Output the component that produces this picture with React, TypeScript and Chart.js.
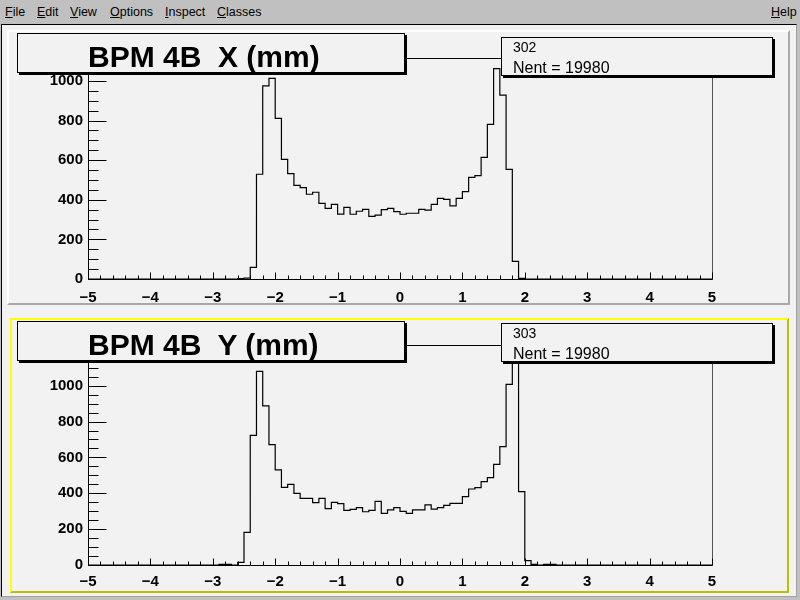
import React, { useEffect, useRef } from "react";
import { Chart, registerables } from "chart.js";

Chart.register(...registerables);

// ---- data ----
const binLow = -5;
const binHigh = 5;
const binCount = 100;

// BPM 4B X histogram (id 302), counts per 0.1 mm bin starting at xStart
const xStart = -2.6;
const xCounts = [
  2, 4, 59, 529, 975, 1013, 811, 604, 532, 473,
  461, 428, 438, 382, 357, 377, 328, 362, 327, 342,
  352, 316, 323, 350, 357, 340, 327, 332, 332, 352,
  348, 377, 407, 402, 369, 407, 441, 513, 522, 614,
  781, 1062, 929, 554, 89, 3,
];

// BPM 4B Y histogram (id 303), counts per 0.1 mm bin starting at yStart
const yStart = -2.9;
const yCounts = [
  3, 3, 0, 15, 182, 723, 1080, 888, 671, 530,
  433, 450, 400, 372, 372, 348, 372, 314, 349, 342,
  305, 310, 320, 297, 305, 355, 288, 307, 320, 299,
  288, 307, 307, 335, 312, 320, 333, 344, 344, 381,
  424, 431, 465, 487, 561, 660, 1007, 1168, 409, 24,
  4, 0, 4, 4,
];

const xTickValues = [-5, -4, -3, -2, -1, 0, 1, 2, 3, 4, 5];
const yTickValues = [0, 200, 400, 600, 800, 1000];
const xMinorStep = 0.2;
const yMinorStep = 50;
const topYMax = 1116;
const bottomYMax = 1227;

const menuItems = ["File", "Edit", "View", "Options", "Inspect", "Classes"];

const FONT = "'Liberation Sans', Arial, Helvetica, sans-serif";
const PAD_BG = "#f2f2f2";

function buildPoints(start: number, counts: number[]) {
  const w = (binHigh - binLow) / binCount;
  const offset = Math.round((start - binLow) / w);
  const full = new Array(binCount).fill(0);
  counts.forEach((c, i) => {
    full[offset + i] = c;
  });
  const pts = full.map((c, i) => ({ x: binLow + i * w, y: c }));
  pts.push({ x: binHigh, y: 0 });
  return pts;
}

const rootAxesPlugin = {
  id: "rootAxes",
  afterDatasetsDraw(chart: any) {
    const { ctx, chartArea: a, scales } = chart;
    const xs = scales.x;
    const ys = scales.y;
    const L = Math.round(a.left) + 0.5;
    const R = Math.round(a.right) + 0.5;
    const T = Math.round(a.top) + 0.5;
    const B = Math.round(a.bottom) + 0.5;
    ctx.save();
    ctx.lineWidth = 1;
    // frame
    ctx.strokeStyle = "#000";
    ctx.beginPath();
    ctx.moveTo(R, T);
    ctx.lineTo(L, T);
    ctx.lineTo(L, B);
    ctx.lineTo(R, B);
    ctx.stroke();
    ctx.strokeStyle = "#555";
    ctx.beginPath();
    ctx.moveTo(R, T);
    ctx.lineTo(R, B);
    ctx.stroke();
    // x ticks (inward)
    ctx.strokeStyle = "#000";
    ctx.beginPath();
    const nX = Math.round((xs.max - xs.min) / xMinorStep);
    for (let i = 0; i <= nX; i++) {
      const v = xs.min + i * xMinorStep;
      const px = Math.round(xs.getPixelForValue(v)) + 0.5;
      const major = Math.abs(v - Math.round(v)) < 1e-6;
      const len = major ? 7 : 4;
      ctx.moveTo(px, B);
      ctx.lineTo(px, B - len);
    }
    // y ticks (inward)
    for (let v = 0; v <= ys.max; v += yMinorStep) {
      const py = Math.round(ys.getPixelForValue(v)) + 0.5;
      const major = v % 200 === 0;
      const len = major ? 18 : 10;
      ctx.moveTo(L, py);
      ctx.lineTo(L + len, py);
    }
    ctx.stroke();
    ctx.restore();
  },
};

function makeConfig(points: any[], yMax: number, topPad: number, xAxisH: number, xLabelPad: number) {
  return {
    type: "line" as const,
    data: {
      datasets: [
        {
          data: points,
          stepped: true,
          borderColor: "#000",
          borderWidth: 1.2,
          pointRadius: 0,
          fill: false,
          tension: 0,
        },
      ],
    },
    options: {
      animation: false,
      responsive: false,
      maintainAspectRatio: false,
      parsing: false,
      layout: { padding: { top: topPad, right: 88, left: 0, bottom: 0 } },
      plugins: {
        legend: { display: false },
        tooltip: { enabled: false },
        title: { display: false },
      },
      scales: {
        x: {
          type: "linear",
          min: binLow,
          max: binHigh,
          grid: { display: false, drawTicks: false },
          border: { display: false },
          ticks: {
            color: "#000",
            font: { family: FONT, size: 15, weight: "bold" },
            padding: xLabelPad,
            maxRotation: 0,
            autoSkip: false,
            callback: (v: any) => String(v).replace("-", "\u2212"),
          },
          afterBuildTicks: (s: any) => {
            s.ticks = xTickValues.map((v) => ({ value: v }));
          },
          afterFit: (s: any) => {
            s.height = xAxisH;
          },
        },
        y: {
          type: "linear",
          min: 0,
          max: yMax,
          grid: { display: false, drawTicks: false },
          border: { display: false },
          ticks: {
            color: "#000",
            font: { family: FONT, size: 15, weight: "bold" },
            padding: 5,
            autoSkip: false,
            callback: (v: any) => String(v),
          },
          afterBuildTicks: (s: any) => {
            s.ticks = yTickValues.map((v) => ({ value: v }));
          },
          afterFit: (s: any) => {
            s.width = 88;
          },
        },
      },
    },
    plugins: [rootAxesPlugin],
  };
}

function TitleBox({ top, text }: { top: number; text: string }) {
  return (
    <div
      style={{
        position: "absolute",
        left: 17,
        top,
        width: 388,
        height: 40,
        boxSizing: "border-box",
        border: "1px solid #000",
        boxShadow: "2px 2px 0 #000",
        background: PAD_BG,
      }}
    >
      <div
        style={{
          position: "absolute",
          left: 70,
          top: 8,
          height: 30,
          lineHeight: "30px",
          fontFamily: FONT,
          fontWeight: "bold",
          fontSize: 30,
          whiteSpace: "pre",
          color: "#000",
        }}
      >
        {text}
      </div>
    </div>
  );
}

function StatsBox({ top, id, nent }: { top: number; id: string; nent: string }) {
  return (
    <div
      style={{
        position: "absolute",
        left: 501,
        top,
        width: 272,
        height: 39,
        boxSizing: "border-box",
        border: "1px solid #000",
        boxShadow: "2px 2px 0 #000",
        background: PAD_BG,
        fontFamily: FONT,
        color: "#000",
      }}
    >
      <div style={{ position: "absolute", left: 11, top: 2, height: 14, lineHeight: "14px", fontSize: 14 }}>{id}</div>
      <div style={{ position: "absolute", left: 11, top: 22, height: 16, lineHeight: "16px", fontSize: 16 }}>{nent}</div>
    </div>
  );
}

export default function App() {
  const topRef = useRef<HTMLCanvasElement | null>(null);
  const botRef = useRef<HTMLCanvasElement | null>(null);

  useEffect(() => {
    document.body.style.margin = "0";
    const c1 = new Chart(topRef.current as HTMLCanvasElement, makeConfig(buildPoints(xStart, xCounts), topYMax, 33, 31, 10) as any);
    const c2 = new Chart(botRef.current as HTMLCanvasElement, makeConfig(buildPoints(yStart, yCounts), bottomYMax, 35, 35, 8) as any);
    return () => {
      c1.destroy();
      c2.destroy();
    };
  }, []);

  return (
    <div style={{ position: "relative", width: 800, height: 600, background: "#c0c0c0", overflow: "hidden" }}>
      {/* menu bar */}
      <div style={{ position: "absolute", left: 0, top: 0, width: 800, height: 24, fontFamily: FONT, fontSize: 12.5, color: "#000" }}>
        {menuItems.map((m, i) => {
          const lefts = [5, 37, 70, 110, 165, 217];
          return (
            <span key={m} style={{ position: "absolute", left: lefts[i], top: 5, lineHeight: "15px" }}>
              <u>{m[0]}</u>
              {m.slice(1)}
            </span>
          );
        })}
        <span style={{ position: "absolute", left: 771, top: 5, lineHeight: "15px" }}>
          <u>H</u>elp
        </span>
      </div>
      {/* canvas window */}
      <div
        style={{
          position: "absolute",
          left: 1,
          top: 24,
          width: 796,
          height: 573,
          boxSizing: "border-box",
          borderTop: "1px solid #000",
          borderLeft: "1px solid #000",
          borderRight: "1px solid #a0a0a0",
          borderBottom: "1px solid #a0a0a0",
          background: PAD_BG,
        }}
      />
      {/* top pad */}
      <div
        style={{
          position: "absolute",
          left: 7,
          top: 30,
          width: 783,
          height: 275,
          boxSizing: "border-box",
          borderTop: "2px solid #ffffff",
          borderLeft: "2px solid #ffffff",
          borderRight: "2px solid #a8a8a8",
          borderBottom: "2px solid #a8a8a8",
          background: PAD_BG,
        }}
      />
      {/* bottom pad (selected) */}
      <div
        style={{
          position: "absolute",
          left: 10,
          top: 318,
          width: 779,
          height: 275,
          boxSizing: "border-box",
          borderTop: "2px solid #ffff00",
          borderLeft: "2px solid #ffff00",
          borderRight: "2px solid #bcbc00",
          borderBottom: "2px solid #bcbc00",
          background: PAD_BG,
        }}
      />
      <canvas ref={topRef} width={800} height={285} style={{ position: "absolute", left: 0, top: 25, width: 800, height: 285 }} />
      <canvas ref={botRef} width={800} height={290} style={{ position: "absolute", left: 0, top: 310, width: 800, height: 290 }} />
      <TitleBox top={33} text={"BPM 4B  X (mm)"} />
      <StatsBox top={37} id="302" nent="Nent = 19980" />
      <TitleBox top={321} text={"BPM 4B  Y (mm)"} />
      <StatsBox top={323} id="303" nent="Nent = 19980" />
    </div>
  );
}
